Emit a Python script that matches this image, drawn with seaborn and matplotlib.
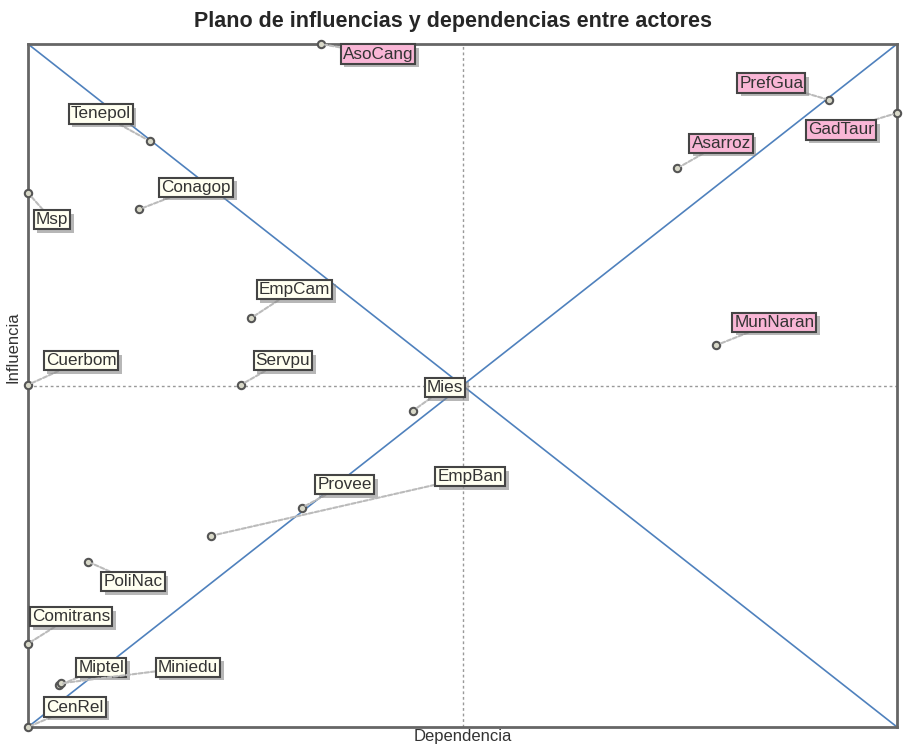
import numpy as np
import pandas as pd
import matplotlib.pyplot as plt
import matplotlib.patheffects as pe
import seaborn as sns

# actores y sus valores (dependencia, influencia) normalizados
actores = ["AsoCang", "Tenepol", "Conagop", "Msp", "EmpCam", "Cuerbom", "Servpu",
           "Mies", "PrefGua", "GadTaur", "Asarroz", "MunNaran", "Provee", "EmpBan",
           "PoliNac", "Comitrans", "Miptel", "Miniedu", "CenRel"]
dependencia = [0.337, 0.140, 0.128, 0.0, 0.257, 0.0, 0.245,
               0.443, 0.922, 1.0, 0.747, 0.792, 0.315, 0.211,
               0.069, 0.0, 0.036, 0.038, 0.0]
influencia = [1.0, 0.858, 0.758, 0.782, 0.599, 0.501, 0.501,
              0.463, 0.918, 0.899, 0.818, 0.559, 0.321, 0.280,
              0.242, 0.122, 0.061, 0.064, 0.0]
destacados = ["AsoCang", "PrefGua", "GadTaur", "Asarroz", "MunNaran"]

# desplazamiento de etiquetas (pixeles)
offsets = {"AsoCang": (57, -10), "Tenepol": (-49, 27), "Conagop": (57, 22),
           "Msp": (24, -27), "EmpCam": (43, 28), "Cuerbom": (53, 24),
           "Servpu": (42, 24), "Mies": (32, 23), "PrefGua": (-58, 17),
           "GadTaur": (-56, -17), "Asarroz": (44, 25), "MunNaran": (58, 23),
           "Provee": (43, 23), "EmpBan": (259, 59), "PoliNac": (45, -20),
           "Comitrans": (43, 27), "Miptel": (42, 18), "Miniedu": (127, 16),
           "CenRel": (47, 20)}

df = pd.DataFrame({"actor": actores, "dep": dependencia, "inf": influencia})

sns.set_style("white")
plt.rcParams['font.family'] = ['Liberation Sans', 'DejaVu Sans']

fig = plt.figure(figsize=(9.05, 7.47), dpi=100)
ax = fig.add_axes([28/905, 20/747, 869/905, 683/747])
ax.set_xlim(0, 1)
ax.set_ylim(0, 1)

# diagonales y ejes medios
xl = ax.get_xlim(); yl = ax.get_ylim()
ax.plot(xl, yl, color="#4f81bd", lw=1.2, zorder=1)
ax.plot(xl, yl[::-1], color="#4f81bd", lw=1.2, zorder=1)
ax.axvline(np.mean(xl), color="#999999", ls=(0, (2, 2)), lw=1, zorder=0)
ax.axhline(np.mean(yl), color="#999999", ls=(0, (2, 2)), lw=1, zorder=0)

sns.scatterplot(data=df, x="dep", y="inf", ax=ax, s=28, marker="o",
                facecolor="#d8d8c8", edgecolor="#555555", linewidth=1.5,
                zorder=4, clip_on=False, legend=False)

for a, x, y in zip(actores, dependencia, influencia):
    fc = "#f9b6d6" if a in destacados else "#fffff0"
    t = ax.annotate(a, (x, y), xytext=offsets[a], textcoords="offset pixels",
                    ha="center", va="center", fontsize=12.3, color="#333333",
                    bbox=dict(boxstyle="square,pad=0.12", fc=fc, ec="#444444", lw=1.5),
                    arrowprops=dict(arrowstyle="-", color="#bbbbbb", lw=1.5,
                                    ls=(0, (2, 1)), shrinkA=0, shrinkB=3),
                    zorder=5, annotation_clip=False)
    t.get_bbox_patch().set_path_effects([
        pe.SimplePatchShadow(offset=(2.5, -2.5), shadow_rgbFace="#888888", alpha=0.6),
        pe.Normal()])

for s in ax.spines.values():
    s.set_color("#666666")
    s.set_linewidth(2)
ax.set_xticks([])
ax.set_yticks([])
ax.set_xlabel("Dependencia", fontsize=12, color="#333333")
ax.set_ylabel("Influencia", fontsize=12, color="#333333")
ax.xaxis.set_label_coords(0.5, -0.003)
ax.yaxis.set_label_coords(-0.009, 0.556)
fig.suptitle("Plano de influencias y dependencias entre actores",
             fontsize=15.5, fontweight="bold", y=0.985)

fig.savefig("out.png", dpi=100)
